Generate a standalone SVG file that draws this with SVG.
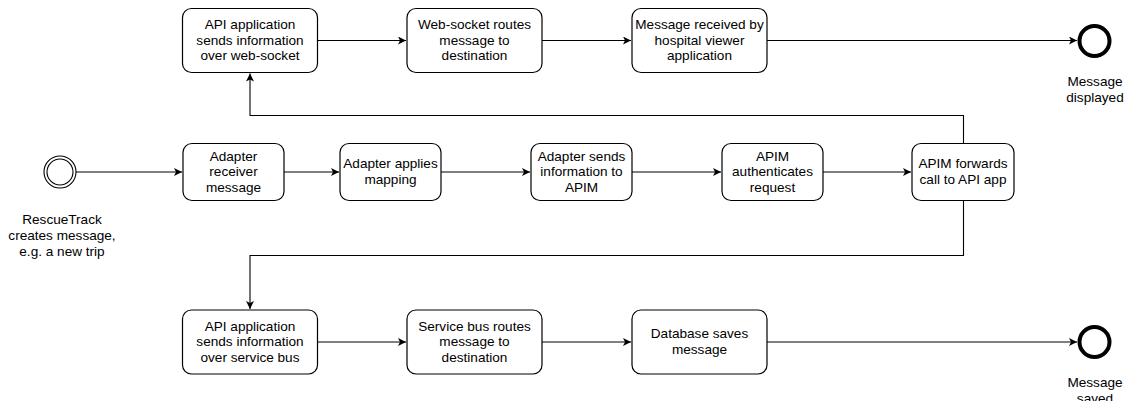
<svg xmlns="http://www.w3.org/2000/svg" width="1127" height="401" viewBox="0 0 1127 401">
<style>
.box{fill:#fff;stroke:#000;stroke-width:1.2}
.t{font-family:"Liberation Sans",Arial,sans-serif;font-size:13.6px;fill:#000;text-anchor:middle}
.e{fill:none;stroke:#000;stroke-width:1.1}
.end{fill:#fff;stroke:#000;stroke-width:4}
.start{fill:#fff;stroke:#000;stroke-width:1.1}
</style>
<defs>
<marker id="arr" markerWidth="10" markerHeight="10" refX="8" refY="4" orient="auto" markerUnits="userSpaceOnUse">
<path d="M0,0 L8,4 L0,8 L2,4 Z" fill="#000"/>
</marker>
</defs>
<rect width="1127" height="401" fill="#fff"/>
<g id="connectors">
<path class="e" d="M317.5,40.5 H406" marker-end="url(#arr)"/>
<path class="e" d="M542,40.5 H631" marker-end="url(#arr)"/>
<path class="e" d="M767,40.5 H1077" marker-end="url(#arr)"/>
<path class="e" d="M76,172 H182" marker-end="url(#arr)"/>
<path class="e" d="M284,172 H339" marker-end="url(#arr)"/>
<path class="e" d="M441,172 H530" marker-end="url(#arr)"/>
<path class="e" d="M632,172 H721" marker-end="url(#arr)"/>
<path class="e" d="M823,172 H911" marker-end="url(#arr)"/>
<path class="e" d="M963.5,143.5 V115.5 H250 V73.5" marker-end="url(#arr)"/>
<path class="e" d="M963.5,200.5 V255.5 H250 V309" marker-end="url(#arr)"/>
<path class="e" d="M317.5,342 H406" marker-end="url(#arr)"/>
<path class="e" d="M542,342 H631" marker-end="url(#arr)"/>
<path class="e" d="M767,342 H1077" marker-end="url(#arr)"/>
</g>
<g id="start">
<circle class="start" cx="60" cy="172" r="16"/>
<circle class="start" cx="60" cy="172" r="13"/>
<text class="t" x="62" y="224">RescueTrack</text>
<text class="t" x="62" y="240">creates message,</text>
<text class="t" x="62" y="256">e.g. a new trip</text>
</g>
<g id="n_api_ws">
<rect class="box" x="182.5" y="8.5" width="135" height="64" rx="9"/>
<text class="t" x="250" y="29">API application</text>
<text class="t" x="250" y="44.7">sends information</text>
<text class="t" x="250" y="60.4">over web-socket</text>
</g>
<g id="n_ws_routes">
<rect class="box" x="407" y="8.5" width="135" height="64" rx="9"/>
<text class="t" x="474.5" y="29">Web-socket routes</text>
<text class="t" x="474.5" y="44.7">message to</text>
<text class="t" x="474.5" y="60.4">destination</text>
</g>
<g id="n_hospital">
<rect class="box" x="632" y="8.5" width="135" height="64" rx="9"/>
<text class="t" x="699.5" y="29">Message received by</text>
<text class="t" x="699.5" y="44.7">hospital viewer</text>
<text class="t" x="699.5" y="60.4">application</text>
</g>
<g id="end_displayed">
<circle class="end" cx="1094.5" cy="41" r="15"/>
<text class="t" x="1095" y="86">Message</text>
<text class="t" x="1095" y="102">displayed</text>
</g>
<g id="n_adapter_recv">
<rect class="box" x="183" y="143.5" width="101" height="57" rx="9"/>
<text class="t" x="233.5" y="160.5">Adapter</text>
<text class="t" x="233.5" y="176.2">receiver</text>
<text class="t" x="233.5" y="191.9">message</text>
</g>
<g id="n_adapter_map">
<rect class="box" x="340" y="143.5" width="101" height="57" rx="9"/>
<text class="t" x="390.5" y="168.4">Adapter applies</text>
<text class="t" x="390.5" y="184.1">mapping</text>
</g>
<g id="n_adapter_send">
<rect class="box" x="531" y="143.5" width="101" height="57" rx="9"/>
<text class="t" x="581.5" y="160.5">Adapter sends</text>
<text class="t" x="581.5" y="176.2">information to</text>
<text class="t" x="581.5" y="191.9">APIM</text>
</g>
<g id="n_apim_auth">
<rect class="box" x="722" y="143.5" width="101" height="57" rx="9"/>
<text class="t" x="772.5" y="160.5">APIM</text>
<text class="t" x="772.5" y="176.2">authenticates</text>
<text class="t" x="772.5" y="191.9">request</text>
</g>
<g id="n_apim_fwd">
<rect class="box" x="912" y="143.5" width="102" height="57" rx="9"/>
<text class="t" x="963" y="168.4">APIM forwards</text>
<text class="t" x="963" y="184.1">call to API app</text>
</g>
<g id="n_api_sb">
<rect class="box" x="182.5" y="310" width="135" height="64" rx="9"/>
<text class="t" x="250" y="330.5">API application</text>
<text class="t" x="250" y="346.2">sends information</text>
<text class="t" x="250" y="361.9">over service bus</text>
</g>
<g id="n_sb_routes">
<rect class="box" x="407" y="310" width="135" height="64" rx="9"/>
<text class="t" x="474.5" y="330.5">Service bus routes</text>
<text class="t" x="474.5" y="346.2">message to</text>
<text class="t" x="474.5" y="361.9">destination</text>
</g>
<g id="n_db">
<rect class="box" x="632" y="310" width="135" height="64" rx="9"/>
<text class="t" x="699.5" y="338.4">Database saves</text>
<text class="t" x="699.5" y="354.1">message</text>
</g>
<g id="end_saved">
<circle class="end" cx="1094.5" cy="342" r="15"/>
<text class="t" x="1095" y="387">Message</text>
<text class="t" x="1095" y="403">saved</text>
</g>
</svg>
